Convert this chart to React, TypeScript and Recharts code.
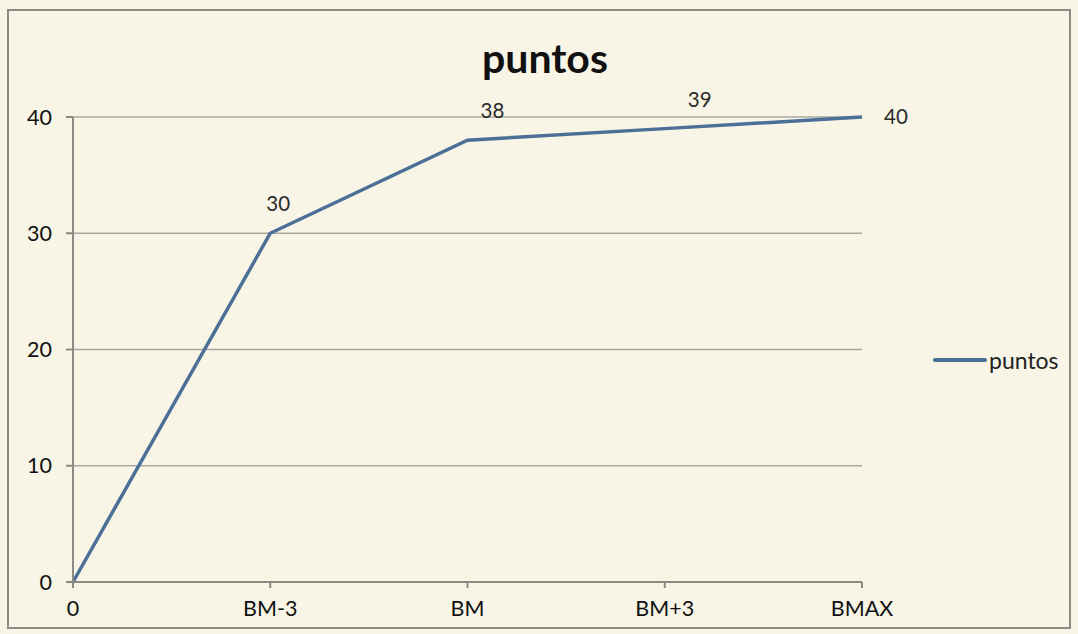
import React from 'react';
import { LineChart, Line, XAxis, YAxis, CartesianGrid, LabelList } from 'recharts';

const categories = ['0', 'BM-3', 'BM', 'BM+3', 'BMAX'];
const puntos = [0, 30, 38, 39, 40];
const yTicks = [0, 10, 20, 30, 40];

const data = categories.map((c, i) => ({ cat: c, puntos: puntos[i] }));

const FONT = 'Lato, "Open Sans", sans-serif';
const LINE = '#4b6f97';

const renderLabel = (props: any) => {
  const { x, y, value, index } = props;
  if (index === 0) return null;
  const last = index === puntos.length - 1;
  const dxs = [0, 8, 25, 35, 0];
  if (last) {
    return (
      <text x={x + 22} y={y + 7} fontSize={20.5} fill="#2a2a2a" fontFamily={FONT} textAnchor="start">
        {value}
      </text>
    );
  }
  return (
    <text x={x + dxs[index]} y={y - 22} fontSize={20.5} fill="#2a2a2a" fontFamily={FONT} textAnchor="middle">
      {value}
    </text>
  );
};

export default function App() {
  return (
    <div style={{ position: 'fixed', left: 0, top: 0, width: 1078, height: 634, background: '#f8f5e6', overflow: 'hidden' }}>
      <div style={{ position: 'absolute', left: 7, top: 9, width: 1064, height: 620, border: '2px solid #8a8a84', boxSizing: 'border-box' }} />
      <div style={{ position: 'absolute', left: 0, top: 0 }}>
        <LineChart width={1078} height={634} data={data} margin={{ top: 117, right: 216, bottom: 22, left: 0 }}>
          <text x={545} y={73} textAnchor="middle" fontSize={41} fontWeight="bold" fill="#111" fontFamily={FONT}>
            puntos
          </text>
          <CartesianGrid horizontal vertical={false} stroke="#a8a8a0" strokeWidth={1.5} />
          <XAxis
            dataKey="cat"
            interval={0}
            padding={{ left: 0, right: 0 }}
            stroke="#8a8a84"
            strokeWidth={2}
            tickSize={6}
            tickMargin={13}
            tick={{ fill: '#111', fontSize: 21.5, fontFamily: FONT }}
            scale="point"
          />
          <YAxis
            width={73}
            domain={[0, 40]}
            ticks={yTicks}
            stroke="#8a8a84"
            strokeWidth={2}
            tickSize={7}
            tickMargin={14}
            tick={{ fill: '#111', fontSize: 21.5, fontFamily: FONT }}
          />
          <Line
            type="linear"
            dataKey="puntos"
            stroke={LINE}
            strokeWidth={3.5}
            dot={false}
            isAnimationActive={false}
          >
            <LabelList dataKey="puntos" content={renderLabel} />
          </Line>
        </LineChart>
      </div>
      <div style={{ position: 'absolute', left: 933, top: 346, display: 'flex', alignItems: 'center', fontFamily: FONT, fontSize: 23, color: '#222' }}>
        <div style={{ width: 54, height: 4, background: LINE, borderRadius: 2, marginRight: 2 }} />
        <span>puntos</span>
      </div>
    </div>
  );
}
